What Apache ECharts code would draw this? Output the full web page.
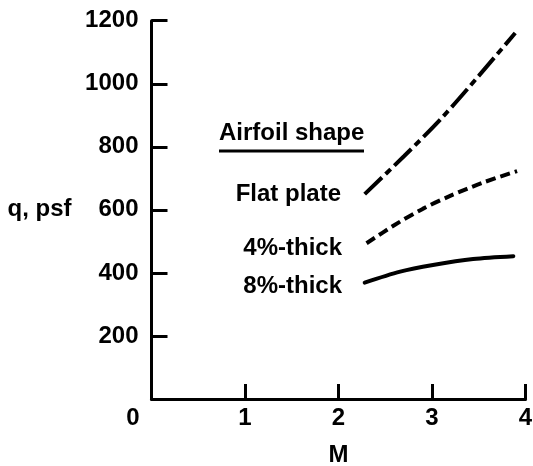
<!DOCTYPE html>
<html>
<head>
<meta charset="utf-8">
<script src="https://cdn.jsdelivr.net/npm/echarts@6/dist/echarts.min.js"></script>
<style>html,body{margin:0;padding:0;background:#fff;}#c{width:533px;height:466px;}</style>
</head>
<body>
<div id="c"></div>
<script>
// Data
const xTicks = [0, 1, 2, 3, 4];
const yTicks = [0, 200, 400, 600, 800, 1000, 1200];
const flatPlateM = [2.28, 2.7, 3.1, 3.5, 3.89];
const flatPlateQ = [650, 770, 890, 1025, 1161];
const thick4M = [2.30, 2.6, 2.9, 3.2, 3.55, 3.91];
const thick4Q = [494, 552, 603, 645, 687, 723];
const thick8M = [2.28, 2.66, 3.01, 3.44, 3.87];
const thick8Q = [369, 404, 425, 444, 453];
const legendTitle = 'Airfoil shape';
const seriesNames = ['Flat plate', '4%-thick', '8%-thick'];

const FAMILY = '"Liberation Sans", Arial, sans-serif';
const FONT = 'bold 24px ' + FAMILY;
const pair = (a, b) => a.map((v, i) => [v, b[i]]);

const chart = echarts.init(document.getElementById('c'), null, {renderer: 'canvas'});
const axisText = {color: '#000', fontFamily: FAMILY, fontWeight: 'bold', fontSize: 24};

chart.setOption({
  backgroundColor: '#fff',
  animation: false,
  grid: {left: 151.5, right: 7.5, top: 20.7, bottom: 67, containLabel: false, outerBoundsMode: 'none'},
  xAxis: {
    type: 'value', min: xTicks[0], max: xTicks[xTicks.length - 1], interval: 1,
    name: 'M', nameLocation: 'middle', nameGap: 44, nameTextStyle: axisText,
    axisLine: {lineStyle: {color: '#000', width: 3}},
    axisTick: {inside: true, length: 15, lineStyle: {color: '#000', width: 3}},
    axisLabel: Object.assign({}, axisText, {
      margin: 7,
      formatter: v => v === 0 ? '{z|0}' : String(v),
      rich: {z: Object.assign({}, axisText, {padding: [0, 37, 0, 0]})}
    }),
    splitLine: {show: false}
  },
  yAxis: {
    type: 'value', min: yTicks[0], max: yTicks[yTicks.length - 1], interval: 200,
    name: 'q, psf', nameLocation: 'middle', nameRotate: 0, nameGap: 80, nameTextStyle: axisText,
    axisLine: {lineStyle: {color: '#000', width: 3}},
    axisTick: {inside: true, length: 16, lineStyle: {color: '#000', width: 3}},
    axisLabel: Object.assign({}, axisText, {margin: 13, showMinLabel: false, formatter: v => String(v)}),
    splitLine: {show: false}
  },
  series: [
    {name: seriesNames[0], type: 'line', data: pair(flatPlateM, flatPlateQ), smooth: 0.3, showSymbol: false,
     lineStyle: {color: '#000', width: 4, type: [24, 5, 7, 5]}},
    {name: seriesNames[1], type: 'line', data: pair(thick4M, thick4Q), smooth: 0.3, showSymbol: false,
     lineStyle: {color: '#000', width: 4, type: [10, 5]}},
    {name: seriesNames[2], type: 'line', data: pair(thick8M, thick8Q), smooth: 0.3, showSymbol: false,
     lineStyle: {color: '#000', width: 4, cap: 'round'}}
  ],
  graphic: [
    {type: 'text', left: 219, top: 121, style: {text: legendTitle, font: FONT, fill: '#000'}},
    {type: 'line', shape: {x1: 219, y1: 151, x2: 364, y2: 151}, style: {stroke: '#000', lineWidth: 3}},
    {type: 'text', x: 341, y: 194, style: {text: seriesNames[0], font: FONT, fill: '#000', textAlign: 'right', textVerticalAlign: 'middle', align: 'right', verticalAlign: 'middle'}},
    {type: 'text', x: 342, y: 248, style: {text: seriesNames[1], font: FONT, fill: '#000', textAlign: 'right', textVerticalAlign: 'middle', align: 'right', verticalAlign: 'middle'}},
    {type: 'text', x: 342, y: 286, style: {text: seriesNames[2], font: FONT, fill: '#000', textAlign: 'right', textVerticalAlign: 'middle', align: 'right', verticalAlign: 'middle'}}
  ]
});
</script>
</body>
</html>
